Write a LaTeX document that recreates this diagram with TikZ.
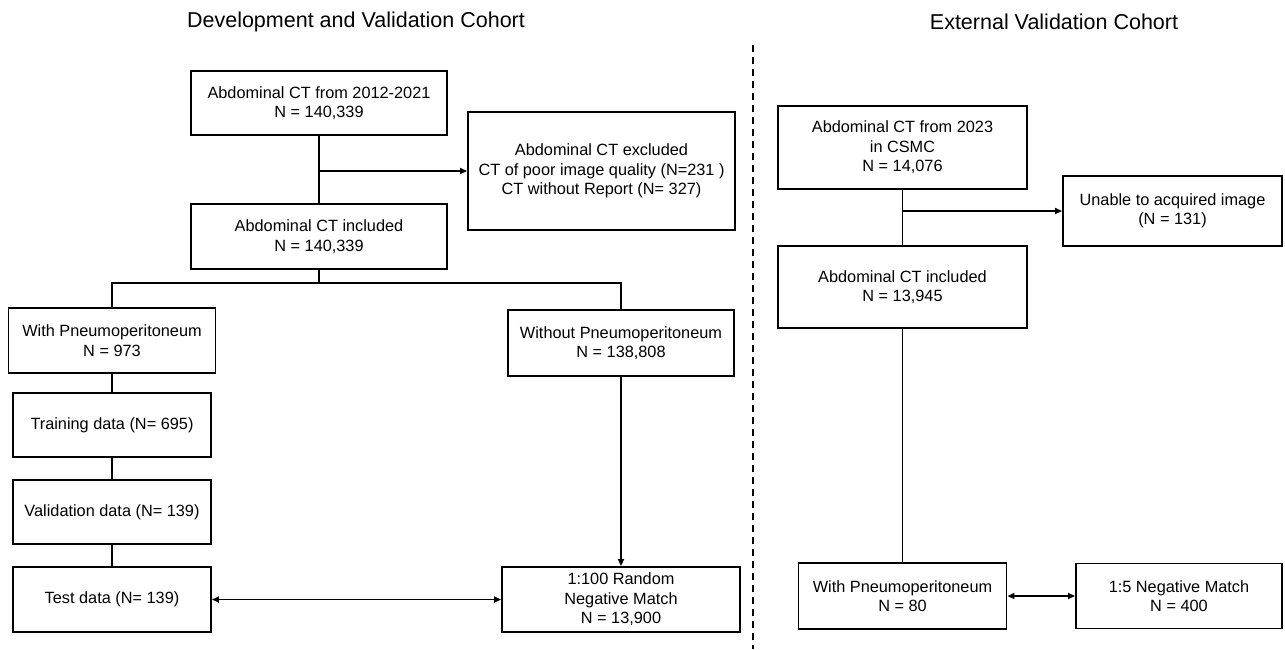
\documentclass[tikz,border=0pt]{standalone}
\usepackage{fontspec}
\setmainfont{Liberation Sans}
\usetikzlibrary{arrows.meta}
\begin{document}
\begin{tikzpicture}[x=1pt,y=-1pt,
  box/.style={draw=black, line width=1.9pt, inner sep=0pt, align=center,
    font=\fontsize{16.3}{19.5}\selectfont},
  conn/.style={line width=1.9pt},
  arr/.style={conn,-{Triangle[length=7pt,width=6pt]}},
  darr/.style={conn,{Triangle[length=7pt,width=6pt]}-{Triangle[length=7pt,width=6pt]}},
  ttl/.style={font=\fontsize{21.5}{24}\selectfont}]
\useasboundingbox (0,0) rectangle (1285,649);
\fill[white] (0,0) rectangle (1285,649);

% titles
\node[ttl] (t1) at (356,22) {Development and Validation Cohort};
\node[ttl] (t2) at (1054,22) {External Validation Cohort};

% divider
\coordinate (d1) at (753,45);
\coordinate (d2) at (753,649);
\draw[line width=1.7pt, dash pattern=on 7pt off 5pt] (d1) -- (d2);

% left cohort
\node[box, minimum width=256pt, minimum height=64pt] (A) at (319,103) {Abdominal CT from 2012-2021\\N = 140,339};
\node[box, minimum width=267pt, minimum height=118pt] (excl) at (601.5,171) {Abdominal CT excluded\\CT of poor image quality (N=231 )\\CT without Report (N= 327)};
\node[box, minimum width=256pt, minimum height=65pt] (incl) at (319,236.5) {Abdominal CT included\\N = 140,339};
\node[box, minimum width=207pt, minimum height=65pt] (withP) at (112,340.5) {With Pneumoperitoneum\\N = 973};
\node[box, minimum width=198pt, minimum height=64pt] (train) at (112,425) {Training data (N= 695)};
\node[box, minimum width=198pt, minimum height=64pt] (valid) at (112,512) {Validation data (N= 139)};
\node[box, minimum width=198pt, minimum height=65pt] (test) at (112,599.5) {Test data (N= 139)};
\node[box, minimum width=226pt, minimum height=66pt] (without) at (621,343) {Without Pneumoperitoneum\\N = 138,808};
\node[box, minimum width=238pt, minimum height=65pt] (rand) at (621,599.5) {1:100 Random\\Negative Match\\N = 13,900};

\coordinate (j1) at (319,171);
\coordinate (br) at (319,283);
\draw[conn] (A.south) -- (incl.north);
\draw[arr] (j1) -- (excl.west);
\draw[conn] (incl.south) -- (br);
\draw[conn] (withP.north) |- (br) -| (without.north);
\draw[conn] (withP.south) -- (train.north);
\draw[conn] (train.south) -- (valid.north);
\draw[conn] (valid.south) -- (test.north);
\draw[arr] (without.south) -- (rand.north);
\draw[darr] (test.east) -- (rand.west);

% right cohort
\node[box, minimum width=249pt, minimum height=83pt] (csmc) at (902.5,147.5) {Abdominal CT from 2023\\in CSMC\\N = 14,076};
\node[box, minimum width=219pt, minimum height=70pt] (unable) at (1172.5,211) {Unable to acquired image\\(N = 131)};
\node[box, minimum width=249pt, minimum height=82pt] (inclR) at (902.5,287) {Abdominal CT included\\N = 13,945};
\node[box, minimum width=208pt, minimum height=66pt] (withR) at (902.5,596) {With Pneumoperitoneum\\N = 80};
\node[box, minimum width=206pt, minimum height=65pt] (neg5) at (1179,596) {1:5 Negative Match\\N = 400};

\coordinate (j2) at (902.5,211);
\draw[conn] (csmc.south) -- (inclR.north);
\draw[arr] (j2) -- (unable.west);
\draw[conn] (inclR.south) -- (withR.north);
\draw[darr] (withR.east) -- (neg5.west);
\end{tikzpicture}
\end{document}
